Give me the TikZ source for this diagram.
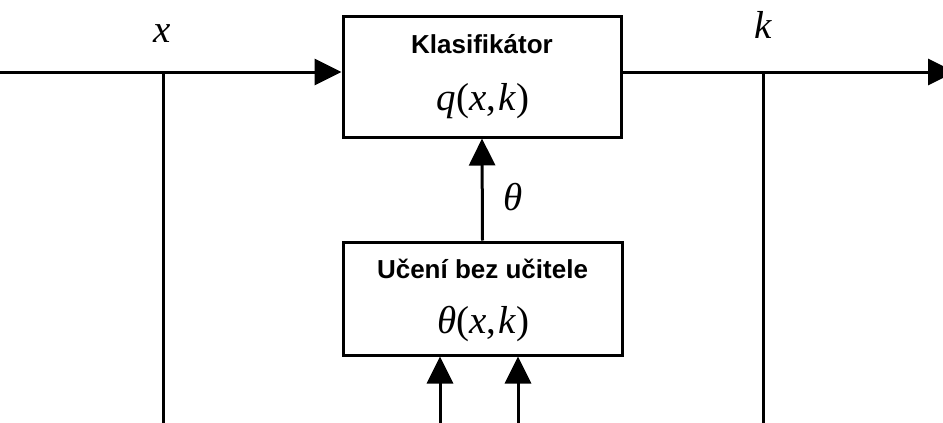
\documentclass[tikz,border=0pt]{standalone}
\usepackage{fontspec}
\setmainfont{Liberation Serif}
\setsansfont{Liberation Sans}
\usetikzlibrary{positioning,arrows.meta}

\begin{document}
\begin{tikzpicture}[x=1pt,y=-1pt,line width=3pt,
    block/.style={rectangle, draw, inner sep=0pt},
    title/.style={font=\sffamily\bfseries\fontsize{26}{30}\selectfont, anchor=base},
    formula/.style={font=\fontsize{39}{44}\selectfont, anchor=base},
    sig/.style={-{Triangle[length=27pt,width=26pt]}}]
        \useasboundingbox (0,0) rectangle (943,423);
        % bloky
        \node[block, minimum width=278pt, minimum height=121pt] (clf) at (482,76.5) {};
        \node[block, minimum width=279pt, minimum height=113pt] (learn) at (482.5,298.5) {};
        \node[title] (clfname) at (482,53) {Klasifikátor};
        \node[formula] (clffn) at (483,110) {\textit{q}(\textit{x},\kern2pt\textit{k})};
        \node[title] (learnname) at (482.5,278) {Učení bez učitele};
        \node[formula] (learnfn) at (483.5,333) {\textit{θ}(\textit{x},\kern2pt\textit{k})};
        % vstup a vystup
        \coordinate (in) at (0,72);
        \coordinate (out) at (955,72);
        \coordinate (xsplit) at (163,72);
        \coordinate (ksplit) at (763,72);
        \coordinate (xend) at (163,423);
        \coordinate (kend) at (763,423);
        \coordinate (xin) at (440,423);
        \coordinate (kin) at (518,423);
        \draw[sig] (in) -- (clf.west |- in);
        \draw[sig] (clf.east |- out) -- (out);
        \draw (xsplit) -- (xend);
        \draw (ksplit) -- (kend);
        \draw[sig] (learn.north) -- (clf.south);
        \draw[sig] (xin) -- (xin |- learn.south);
        \draw[sig] (kin) -- (kin |- learn.south);
        % popisky
        \node[formula] (xlabel) at (162,42) {\textit{x}};
        \node[formula] (klabel) at (763,38) {\textit{k}};
        \node[formula] (thlabel) at (513,210) {\textit{θ}};
\end{tikzpicture}
\end{document}
